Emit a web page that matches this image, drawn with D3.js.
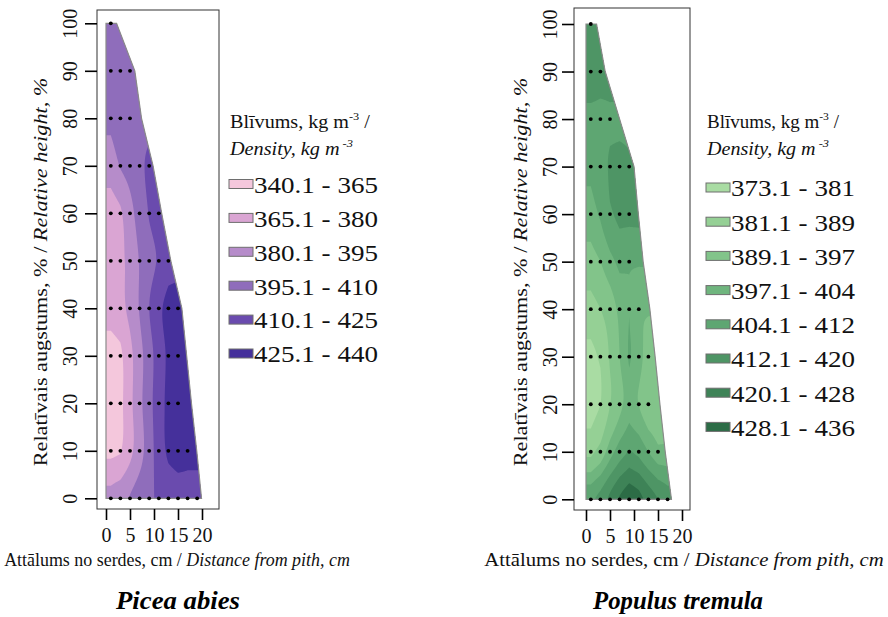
<!DOCTYPE html>
<html>
<head>
<meta charset="utf-8">
<title>Wood density contours</title>
<script src="https://d3js.org/d3.v7.min.js"></script>
<style>
  body { margin: 0; background: #fff; }
  svg { display: block; font-family: "Liberation Serif", "Times New Roman", serif; }
</style>
</head>
<body>
<svg width="888" height="617"></svg>
<script>
// sample grid: relative height rows (%) and distance of the cores from pith (cm)
var heights = [0, 10, 20, 30, 40, 50, 60, 70, 80, 90, 100];
var distances = [1, 3, 5, 7, 9, 11, 13, 15, 17, 19];
var distTicks = [0, 5, 10, 15, 20];
var heightTicks = [0, 10, 20, 30, 40, 50, 60, 70, 80, 90, 100];

// Picea abies - density (kg m-3) at every sample point, one row per height
var piceaDensity = [
    [385, 389, 396, 403, 408, 412, 415, 417, 418, 418],
    [362, 364, 376, 389, 403, 418, 428, 432, 430],
    [357, 361, 376, 391, 405, 419, 429, 433],
    [358, 362, 376, 390, 404, 418, 428, 432],
    [371, 375, 384, 396, 410, 422, 430, 433],
    [370, 376, 385, 396, 405, 412, 419],
    [372, 378, 390, 402, 411, 417],
    [388, 396, 401, 407, 413],
    [398, 402, 406],
    [402, 404, 405],
    [404]
];
// stem radius (cm) at each height
var piceaRadius = [19.9, 18.9, 17.8, 16.8, 15.8, 13.5, 11.6, 9.8, 7.4, 6, 2.2];
var piceaBreaks = [340.1, 365.1, 380.1, 395.1, 410.1, 425.1];
var piceaLabels = ["340.1 - 365", "365.1 - 380", "380.1 - 395", "395.1 - 410", "410.1 - 425", "425.1 - 440"];
var piceaColors = ["#f4c7dc", "#daa5d3", "#b68cca", "#8f6dbb", "#6a4bae", "#45309b"];

// Populus tremula
var populusDensity = [
    [410, 415, 422, 429, 434, 431, 425, 420, 416],
    [387, 392, 401, 408, 413, 410, 404, 399],
    [378, 381, 389, 395, 401, 397, 392],
    [379, 382, 390, 397, 405, 400, 393],
    [386, 389, 393, 399, 404, 398],
    [394, 397, 402, 406, 405],
    [401, 405, 411, 414, 414],
    [406, 409, 413, 414, 413],
    [410, 410, 411],
    [416, 415],
    [416]
];
var populusRadius = [17.8, 16.5, 15.4, 14.4, 13.3, 11.9, 10.9, 10, 7, 4, 2.2];
var populusBreaks = [373.1, 381.1, 389.1, 397.1, 404.1, 412.1, 420.1, 428.1];
var populusLabels = ["373.1 - 381", "381.1 - 389", "389.1 - 397", "397.1 - 404",
                     "404.1 - 412", "412.1 - 420", "420.1 - 428", "428.1 - 436"];
var populusColors = ["#a9dca3", "#95d095", "#82c48a", "#6fb57e", "#5ea672", "#4e9565", "#3e8357", "#2c6c46"];

var svg = d3.select("svg");

// linear along a row, held flat beyond the first / last sample
function rowValue(row, d) {
    var n = row.length;
    if (d <= distances[0]) return row[0];
    if (d >= distances[n - 1]) return row[n - 1];
    var i = 0;
    while (distances[i + 1] < d) i++;
    var t = (d - distances[i]) / (distances[i + 1] - distances[i]);
    return row[i] + t * (row[i + 1] - row[i]);
}

// catmull-rom between height rows
function fieldValue(rows, d, h) {
    var last = rows.length - 1;
    var k = (h - heights[0]) / (heights[1] - heights[0]);
    k = Math.max(0, Math.min(last, k));
    var i = Math.min(Math.floor(k), last - 1), t = k - i;
    var v = [i - 1, i, i + 1, i + 2].map(function(j) {
        return rowValue(rows[Math.max(0, Math.min(last, j))], d);
    });
    return 0.5 * (2 * v[1] + (-v[0] + v[2]) * t +
        (2 * v[0] - 5 * v[1] + 4 * v[2] - v[3]) * t * t +
        (-v[0] + 3 * v[1] - 3 * v[2] + v[3]) * t * t * t);
}

function fitText(t, width) {
    var w = t.node().getComputedTextLength();
    t.attr("transform", t.attr("transform") + " scale(" + (width / w) + ",1)");
}

function drawPanel(p) {
    var x = d3.scaleLinear().domain([0, 20]).range(p.xRange),
        y = d3.scaleLinear().domain([0, 100]).range(p.yRange);
    var g = svg.append("g");

    // stem outline
    var outline = [[0, 0]].concat(p.radius.map(function(r, i) { return [r, heights[i]]; }), [[0, 100]]);
    var line = d3.line().x(function(d) { return x(d[0]); }).y(function(d) { return y(d[1]); });

    g.append("clipPath").attr("id", p.id + "-clip")
        .append("path").attr("d", line(outline) + "Z");

    // interpolated field for the filled contours
    var step = 0.1, hstep = 0.25, d0 = -1, h0 = -2;
    var nx = Math.round(22 / step) + 1, ny = Math.round(104 / hstep) + 1;
    var values = new Array(nx * ny);
    for (var j = 0; j < ny; j++) {
        for (var i = 0; i < nx; i++) {
            values[j * nx + i] = fieldValue(p.density, d0 + i * step, h0 + j * hstep);
        }
    }
    var contours = d3.contours().size([nx, ny]).thresholds(p.breaks)(values);
    var path = d3.geoPath(d3.geoTransform({
        point: function(px, py) {
            this.stream.point(x(d0 + (px - 0.5) * step), y(h0 + (py - 0.5) * hstep));
        }
    }));

    g.append("g").attr("clip-path", "url(#" + p.id + "-clip)")
        .selectAll("path")
        .data(contours)
        .enter().append("path")
        .attr("d", path)
        .attr("fill", function(d, i) { return p.colors[i]; });

    g.append("path")
        .attr("d", line(outline) + "Z")
        .attr("fill", "none")
        .attr("stroke", "#8a8a8a")
        .attr("stroke-width", 1.2);

    // sample points
    p.density.forEach(function(row, i) {
        g.selectAll(null)
            .data(row)
            .enter().append("circle")
            .attr("cx", function(d, k) { return x(distances[k]); })
            .attr("cy", y(heights[i]))
            .attr("r", 1.9)
            .attr("fill", "#000");
    });

    // frame
    g.append("rect")
        .attr("x", p.box[0]).attr("y", p.box[1])
        .attr("width", p.box[2]).attr("height", p.box[3])
        .attr("fill", "none").attr("stroke", "#333").attr("stroke-width", 1);

    var gx = g.append("g")
        .attr("transform", "translate(0," + (p.box[1] + p.box[3]) + ")")
        .call(d3.axisBottom(x).tickValues(distTicks).tickSize(11).tickSizeOuter(0));
    gx.attr("font-size", 20).attr("font-family", null);
    gx.select(".domain").remove();
    gx.selectAll(".tick line").attr("stroke-width", 1.6);
    gx.selectAll(".tick text").attr("y", 33).attr("dy", null).attr("fill", "#111");

    var gy = g.append("g")
        .attr("transform", "translate(" + p.box[0] + ",0)")
        .call(d3.axisLeft(y).tickValues(heightTicks).tickSize(12).tickSizeOuter(0));
    gy.attr("font-size", 20).attr("font-family", null);
    gy.select(".domain").remove();
    gy.selectAll(".tick line").attr("stroke-width", 1.6);
    gy.selectAll(".tick text")
        .attr("x", 0).attr("y", -p.yLabelOffset).attr("dy", null)
        .attr("transform", "rotate(-90)")
        .attr("text-anchor", "middle").attr("fill", "#111");

    // axis titles
    var yt = g.append("text")
        .attr("transform", "translate(" + p.yTitle[0] + "," + p.yTitle[1] + ") rotate(-90)")
        .attr("text-anchor", "middle").attr("font-size", 19).attr("fill", "#111");
    yt.append("tspan").text("Relatīvais augstums, % / ");
    yt.append("tspan").attr("font-style", "italic").text("Relative height, %");
    fitText(yt, p.yTitle[2]);

    var xt = g.append("text")
        .attr("transform", "translate(" + p.xTitle[0] + "," + p.xTitle[1] + ")")
        .attr("text-anchor", "middle").attr("font-size", 18.5).attr("fill", "#111");
    xt.append("tspan").text("Attālums no serdes, cm / ");
    xt.append("tspan").attr("font-style", "italic").text("Distance from pith, cm");
    fitText(xt, p.xTitle[2]);

    var st = g.append("text")
        .attr("transform", "translate(" + p.species[0] + "," + p.species[1] + ")")
        .attr("text-anchor", "middle").attr("font-size", 26)
        .attr("font-weight", "bold").attr("font-style", "italic")
        .text(p.name);
    fitText(st, p.species[2]);

    // legend
    var lg = g.append("g");
    var l1 = lg.append("text")
        .attr("transform", "translate(" + p.legend.x + "," + p.legend.t1 + ")")
        .attr("font-size", 18).attr("fill", "#111");
    l1.append("tspan").text("Blīvums, kg m");
    l1.append("tspan").attr("dy", -8).attr("font-size", 11).text("-3");
    l1.append("tspan").attr("dy", 8).text(" /");
    fitText(l1, p.legend.w1);

    var l2 = lg.append("text")
        .attr("transform", "translate(" + p.legend.x + "," + p.legend.t2 + ")")
        .attr("font-size", 18).attr("font-style", "italic").attr("fill", "#111");
    l2.append("tspan").text("Density, kg m");
    l2.append("tspan").attr("dy", -8).attr("font-size", 11).text(" -3");
    fitText(l2, p.legend.w2);

    var rows = lg.selectAll(".entry")
        .data(p.labels)
        .enter().append("g")
        .attr("class", "entry")
        .attr("transform", function(d, i) { return "translate(" + p.legend.x + "," + (p.legend.y0 + i * p.legend.dy) + ")"; });
    rows.append("rect")
        .attr("x", -1).attr("y", -5)
        .attr("width", 24).attr("height", 9)
        .attr("fill", function(d, i) { return p.colors[i]; })
        .attr("stroke", "#6e6e6e").attr("stroke-width", 1);
    rows.append("text")
        .attr("transform", "translate(24,8.3)")
        .attr("font-size", 24).attr("fill", "#111")
        .text(function(d) { return d; })
        .each(function() { fitText(d3.select(this), 124); });
}

drawPanel({
    id: "picea", name: "Picea abies",
    density: piceaDensity, radius: piceaRadius,
    breaks: piceaBreaks, labels: piceaLabels, colors: piceaColors,
    xRange: [106, 202], yRange: [498.3, 23.3],
    box: [97, 10, 122, 499],
    yLabelOffset: 20,
    yTitle: [47, 272, 389],
    xTitle: [177, 566, 346],
    species: [178, 609, 124],
    legend: { x: 230, t1: 128, t2: 155, w1: 140, w2: 123, y0: 184.5, dy: 33.9 }
});

drawPanel({
    id: "populus", name: "Populus tremula",
    density: populusDensity, radius: populusRadius,
    breaks: populusBreaks, labels: populusLabels, colors: populusColors,
    xRange: [586, 682], yRange: [499.3, 24],
    box: [574, 8, 116, 502],
    yLabelOffset: 17,
    yTitle: [527, 272, 389],
    xTitle: [684, 566, 400],
    species: [678, 609, 170],
    legend: { x: 707, t1: 128, t2: 155, w1: 132, w2: 122, y0: 188, dy: 34.2 }
});
</script>
</body>
</html>
